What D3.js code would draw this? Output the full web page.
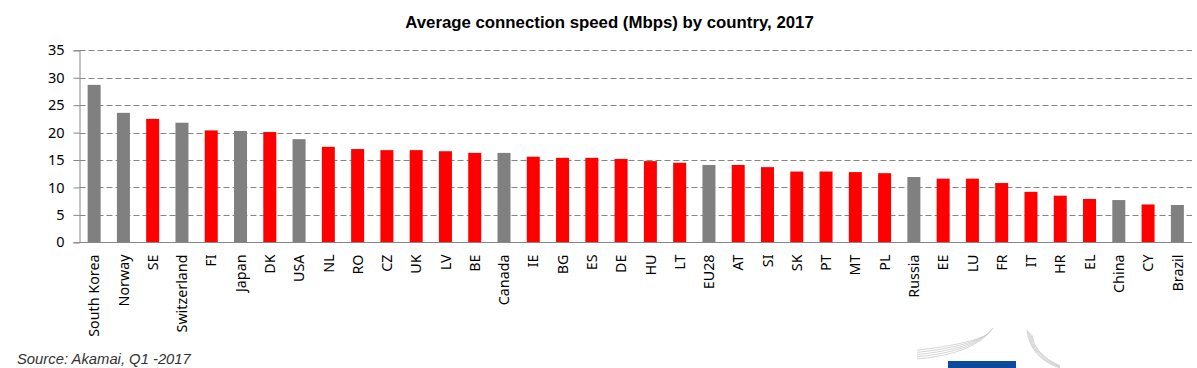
<!DOCTYPE html>
<html>
<head>
<meta charset="utf-8">
<script src="https://cdn.jsdelivr.net/npm/d3@7/dist/d3.min.js"></script>
<style>
  html, body { margin: 0; padding: 0; background: #fff; }
  svg { display: block; }
</style>
</head>
<body>
<svg id="chart" width="1197" height="368"></svg>
<script>
const categories = ["South Korea","Norway","SE","Switzerland","FI","Japan","DK","USA","NL","RO","CZ","UK","LV","BE","Canada","IE","BG","ES","DE","HU","LT","EU28","AT","SI","SK","PT","MT","PL","Russia","EE","LU","FR","IT","HR","EL","China","CY","Brazil"];
const values = [28.7,23.6,22.5,21.8,20.4,20.3,20.1,18.8,17.4,17.0,16.8,16.8,16.6,16.3,16.3,15.6,15.4,15.4,15.2,14.8,14.5,14.1,14.1,13.7,12.9,12.9,12.8,12.6,11.9,11.6,11.6,10.8,9.2,8.5,7.9,7.7,6.9,6.8];
const nonEU = ["South Korea","Norway","Switzerland","Japan","USA","Canada","EU28","Russia","China","Brazil"];
const yTicks = [0,5,10,15,20,25,30,35];
const title = "Average connection speed (Mbps) by country, 2017";
const source = "Source: Akamai, Q1 -2017";

const svg = d3.select("#chart");
const pLeft = 79.5, pRight = 1192, pTop = 50.3, pBottom = 242.3;

const x = d3.scaleBand().domain(categories).range([pLeft, pRight]).paddingInner(0.556).paddingOuter(0.278);
const y = d3.scaleLinear().domain([0, 35]).range([pBottom, pTop]);

// gridlines
svg.append("g").selectAll("line").data(yTicks.filter(d => d > 0)).join("line")
  .attr("x1", pLeft).attr("x2", pRight)
  .attr("y1", d => Math.round(y(d)) + 0.5).attr("y2", d => Math.round(y(d)) + 0.5)
  .attr("stroke", "#858585").attr("stroke-width", 1).attr("stroke-dasharray", "6,3");

// bars
svg.append("g").selectAll("rect").data(categories).join("rect")
  .attr("x", d => x(d)).attr("width", x.bandwidth())
  .attr("y", (d, i) => y(values[i])).attr("height", (d, i) => y(0) - y(values[i]))
  .attr("fill", d => nonEU.includes(d) ? "#808080" : "#ff0000");

// y axis
const yAxis = d3.axisLeft(y).tickValues(yTicks).tickSize(6).tickPadding(9);
const ya = svg.append("g").attr("transform", `translate(${pLeft},0)`).call(yAxis);
ya.select(".domain").attr("stroke", "#868686");
ya.selectAll(".tick line").attr("stroke", "#868686");
ya.selectAll(".tick text").attr("font-family", "'Noto Sans', sans-serif").attr("font-size", 14.5).attr("fill", "#000");

// x axis
const xAxis = d3.axisBottom(x).tickSize(0).tickPadding(0);
const xa = svg.append("g").attr("transform", `translate(0,${Math.round(pBottom)+0.5})`).call(xAxis);
xa.select(".domain").attr("stroke", "#868686").attr("d", `M${pLeft},0H${pRight}`);
xa.selectAll(".tick text")
  .attr("font-family", "'Noto Sans', sans-serif").attr("font-size", 14.3).attr("fill", "#000")
  .attr("text-anchor", "end")
  .attr("transform", "rotate(-90)")
  .attr("x", -12).attr("y", 0).attr("dy", "0.36em");

// title
svg.append("text").attr("x", 609.5).attr("y", 28).attr("text-anchor", "middle")
  .attr("font-family", "'Liberation Sans', Arial, sans-serif").attr("font-weight", "bold")
  .attr("font-size", 16.8).attr("fill", "#000").text(title);

// source
svg.append("text").attr("x", 17).attr("y", 364)
  .attr("font-family", "'Liberation Sans', Arial, sans-serif").attr("font-style", "italic")
  .attr("font-size", 14.8).attr("fill", "#333").text(source);

// logo decoration
const logo = svg.append("g");
logo.append("rect").attr("x", 948).attr("y", 361).attr("width", 68).attr("height", 10).attr("fill", "#0b4a9c");
for (let k = 0; k < 5; k++) {
  logo.append("path")
    .attr("d", `M${917},${359 - k*2.2} Q${975 - k},${354 - k*2.5} ${993 - k*1.2},${328 + k*1.5}`)
    .attr("fill", "none").attr("stroke", "#d0d0d0").attr("stroke-width", 0.9);
  logo.append("path")
    .attr("d", `M${1027 + k*1.2},${330 + k*1.2} Q${1030 + k},${358 - k} ${1060},${368 - k*0.5}`)
    .attr("fill", "none").attr("stroke", "#d0d0d0").attr("stroke-width", 0.9);
}
</script>
</body>
</html>
